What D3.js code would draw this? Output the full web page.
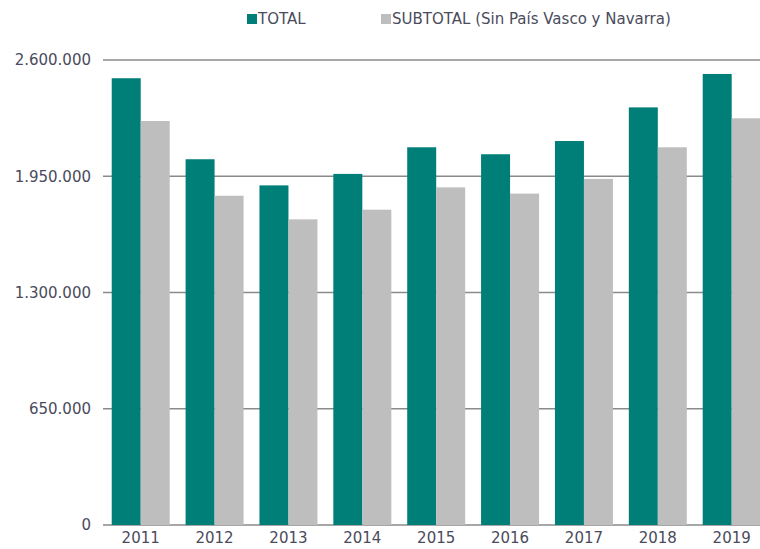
<!DOCTYPE html>
<html>
<head>
<meta charset="utf-8">
<script src="https://cdn.jsdelivr.net/npm/d3@7"></script>
<style>
  html, body { margin: 0; padding: 0; background: #fff; }
  svg { display: block; }
  text { font-family: "DejaVu Sans", sans-serif; fill: #4a4b5c; }
</style>
</head>
<body>
<svg id="chart" width="760" height="549"></svg>
<script>
const years = ["2011","2012","2013","2014","2015","2016","2017","2018","2019"];
const total = [2498000, 2045000, 1899000, 1963000, 2112000, 2073000, 2147000, 2335000, 2522000];
const subtotal = [2259000, 1841000, 1709000, 1763000, 1888000, 1853000, 1935000, 2112000, 2274000];
const seriesNames = ["TOTAL", "SUBTOTAL (Sin País Vasco y Navarra)"];
const seriesColors = ["#007f78", "#bebebe"];
const yTicks = [0, 650000, 1300000, 1950000, 2600000];

(function () {
const svg = d3.select("#chart");
const mLeft = 103, mRight = 769.4, mTop = 60, mBottom = 525;
const fs = 15;

const x = d3.scaleBand().domain(years).range([mLeft, mRight]).paddingInner(0.215).paddingOuter(0.118);
const x1 = d3.scaleBand().domain(seriesNames).range([0, x.bandwidth()]);
const y = d3.scaleLinear().domain([0, 2600000]).range([mBottom, mTop]);

const fmt = v => d3.format(",")(v).replace(/,/g, ".");

// gridlines
svg.append("g")
  .selectAll("line").data(yTicks).join("line")
  .attr("x1", mLeft).attr("x2", 760)
  .attr("y1", d => y(d)).attr("y2", d => y(d))
  .attr("stroke", "#8a8a8a").attr("stroke-width", 1.4);

// y axis labels
const yAxis = d3.axisLeft(y).tickValues(yTicks).tickFormat(fmt).tickSize(0).tickPadding(0);
const gy = svg.append("g").attr("transform", `translate(${mLeft - 12},0)`).call(yAxis);
gy.select(".domain").remove();
gy.selectAll("text").attr("font-size", fs).attr("font-family", "DejaVu Sans, sans-serif").attr("fill", "#4a4b5c");

// bars
const data = years.map((yr, i) => ({ year: yr, vals: [total[i], subtotal[i]] }));
const groups = svg.append("g").selectAll("g").data(data).join("g")
  .attr("transform", d => `translate(${x(d.year)},0)`);
groups.selectAll("rect").data(d => d.vals.map((v, j) => ({ v, s: seriesNames[j], c: seriesColors[j] })))
  .join("rect")
  .attr("x", d => x1(d.s)).attr("width", x1.bandwidth())
  .attr("y", d => y(d.v)).attr("height", d => y(0) - y(d.v))
  .attr("fill", d => d.c);

// x axis labels
const xAxis = d3.axisBottom(x).tickSize(0).tickPadding(0);
const gx = svg.append("g").attr("transform", `translate(0,${mBottom + 7})`).call(xAxis);
gx.select(".domain").remove();
gx.selectAll("text").attr("font-size", fs).attr("font-family", "DejaVu Sans, sans-serif").attr("fill", "#4a4b5c");

// legend
const legendX = [247, 381];
const lg = svg.append("g").selectAll("g").data(seriesNames).join("g")
  .attr("transform", (d, i) => `translate(${legendX[i]},14)`);
lg.append("rect").attr("width", 10).attr("height", 10).attr("fill", (d, i) => seriesColors[i]);
lg.append("text").attr("x", 11).attr("y", 5).attr("dy", "0.35em")
  .attr("font-size", fs).text(d => d);
})();
</script>
</body>
</html>
